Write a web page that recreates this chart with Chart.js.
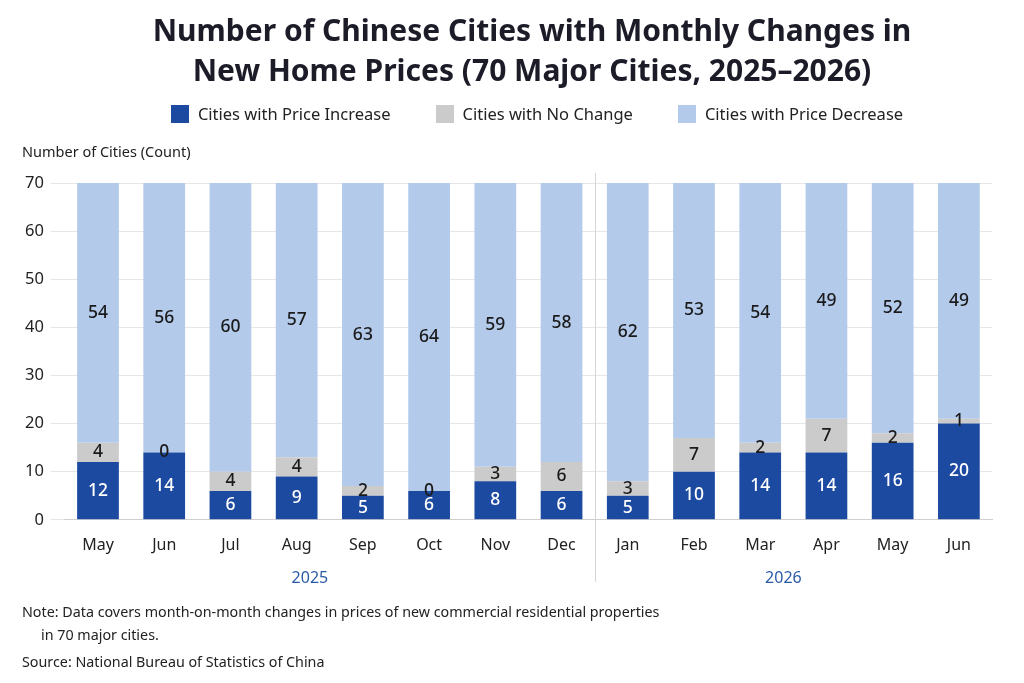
<!DOCTYPE html>
<html>
<head>
<meta charset="utf-8">
<script src="https://cdn.jsdelivr.net/npm/chart.js@4.4.1/dist/chart.umd.min.js"></script>
<style>
    html, body { margin: 0; padding: 0; background: #fff; }
    #wrap { position: relative; width: 1024px; height: 683px; font-family: "Noto Sans", "Open Sans", sans-serif; }
    #title { position: absolute; left: 20px; width: 1024px; top: 10px; text-align: center; font-size: 30px; font-weight: bold; line-height: 40px; color: #1c1c28; }
    #legend { position: absolute; left: 0; width: 974px; padding-left: 50px; top: 102px; display: flex; justify-content: center; gap: 45px; font-size: 16.5px; color: #222; }
    #legend .item { display: flex; align-items: center; line-height: 24px; }
    #legend .sw { width: 18px; height: 18px; margin-right: 9px; }
    #notes { position: absolute; left: 22px; top: 600px; font-size: 14.3px; color: #222; line-height: 23px; }
    #notes .indent { padding-left: 19px; }
    #notes .src { margin-top: 4px; }
</style>
</head>
<body>
<div id="wrap">
    <canvas id="chart" width="1024" height="683"></canvas>
    <div id="title">Number of Chinese Cities with Monthly Changes in<br>New Home Prices (70 Major Cities, 2025–2026)</div>
    <div id="legend"></div>
    <div id="notes">
        <div>Note: Data covers month-on-month changes in prices of new commercial residential properties</div>
        <div class="indent">in 70 major cities.</div>
        <div class="src">Source: National Bureau of Statistics of China</div>
    </div>
</div>
<script>
    // month labels, May 2025 to Jun 2026
    const months = ["May", "Jun", "Jul", "Aug", "Sep", "Oct", "Nov", "Dec", "Jan", "Feb", "Mar", "Apr", "May", "Jun"];
    const years = ["2025", "2026"];
    const increase = [12, 14, 6, 9, 5, 6, 8, 6, 5, 10, 14, 14, 16, 20];
    const noChange = [4, 0, 4, 4, 2, 0, 3, 6, 3, 7, 2, 7, 2, 1];
    const decrease = [54, 56, 60, 57, 63, 64, 59, 58, 62, 53, 54, 49, 52, 49];
    const yTicks = [0, 10, 20, 30, 40, 50, 60, 70];

    const FONT = "'Noto Sans', 'Open Sans', sans-serif";

    // numbers inside each stacked segment
    const segmentLabels = {
        id: "segmentLabels",
        afterDatasetsDraw(chart) {
            const ctx = chart.ctx;
            ctx.save();
            ctx.textAlign = "center";
            ctx.textBaseline = "middle";
            ctx.font = "500 17.5px " + FONT;
            chart.data.datasets.forEach((ds, i) => {
                const meta = chart.getDatasetMeta(i);
                meta.data.forEach((bar, j) => {
                    const mid = (bar.y + bar.base) / 2;
                    ctx.fillStyle = i === 0 ? "#ffffff" : "#1a1a1a";
                    ctx.fillText(String(ds.data[j]), bar.x, mid);
                });
            });
            ctx.restore();
        }
    };

    // axis title, year labels and the divider between years
    const extras = {
        id: "extras",
        afterDraw(chart) {
            const ctx = chart.ctx;
            const x = chart.scales.x;
            const area = chart.chartArea;
            ctx.save();
            ctx.font = "14.5px " + FONT;
            ctx.fillStyle = "#222";
            ctx.textAlign = "left";
            ctx.textBaseline = "middle";
            ctx.fillText("Number of Cities (Count)", 22, area.top - 30);

            const sep = x.getPixelForValue(7.5);
            ctx.strokeStyle = "#d4d4d4";
            ctx.lineWidth = 1;
            ctx.beginPath();
            ctx.moveTo(Math.round(sep) + 0.5, area.top - 10);
            ctx.lineTo(Math.round(sep) + 0.5, area.bottom + 62);
            ctx.stroke();

            ctx.font = "16px " + FONT;
            ctx.fillStyle = "#2b5ba8";
            ctx.textAlign = "center";
            ctx.fillText(years[0], x.getPixelForValue(3.2), area.bottom + 59);
            ctx.fillText(years[1], x.getPixelForValue(10.35), area.bottom + 59);
            ctx.restore();
        }
    };

    const chart = new Chart(document.getElementById("chart"), {
        type: "bar",
        data: {
            labels: months,
            datasets: [
                { label: "Cities with Price Increase", data: increase, backgroundColor: "#1b4aa0" },
                { label: "Cities with No Change", data: noChange, backgroundColor: "#cbcbcb" },
                { label: "Cities with Price Decrease", data: decrease, backgroundColor: "#b3caeb" },
            ],
        },
        options: {
            responsive: false,
            animation: false,
            layout: { padding: { left: 18, right: 32, top: 183, bottom: 120 } },
            datasets: { bar: { barPercentage: 0.63, categoryPercentage: 1.0 } },
            plugins: {
                legend: { display: false },
                tooltip: { enabled: false },
            },
            scales: {
                x: {
                    stacked: true,
                    grid: { display: false },
                    border: { color: "#cfcfcf" },
                    ticks: { color: "#222", font: { family: FONT, size: 16 }, padding: 8 },
                },
                y: {
                    stacked: true,
                    min: 0,
                    max: 70,
                    afterBuildTicks(axis) {
                        axis.ticks = yTicks.map((v) => ({ value: v }));
                    },
                    grid: { color: "#e6e6e6", tickLength: 14, tickColor: "#e6e6e6" },
                    border: { display: false },
                    ticks: { color: "#222", font: { family: FONT, size: 16.5 }, padding: 7 },
                },
            },
        },
        plugins: [segmentLabels, extras],
    });

    // HTML legend built from the chart datasets
    const legendDiv = document.getElementById("legend");
    chart.data.datasets.forEach((ds) => {
        const item = document.createElement("div");
        item.className = "item";
        item.innerHTML = `<span class="sw" style="background:${ds.backgroundColor}"></span>${ds.label}`;
        legendDiv.appendChild(item);
    });
</script>
</body>
</html>
